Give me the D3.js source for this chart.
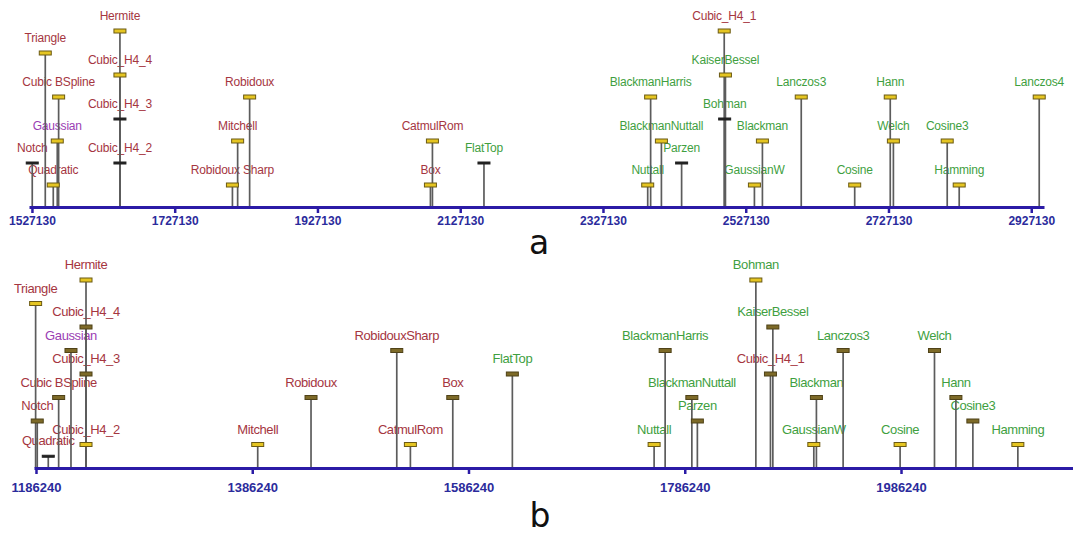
<!DOCTYPE html>
<html>
<head>
<meta charset="utf-8">
<script src="https://cdn.jsdelivr.net/npm/d3@7"></script>
<style>
  body { margin: 0; background: #fff; }
  svg { display: block; }
  .tick text { font-family: "Liberation Sans", Arial, sans-serif; font-weight: bold; fill: #2b2b9c; }
</style>
</head>
<body>
<div id="chart"></div>
<script>
// panel a
var namesA = ["Notch", "Triangle", "Quadratic", "Gaussian", "Cubic BSpline", "Hermite", "Cubic_H4_4", "Cubic_H4_3", "Cubic_H4_2",
  "Robidoux Sharp", "Mitchell", "Robidoux", "Box", "CatmulRom", "FlatTop", "Nuttall", "BlackmanHarris", "BlackmanNuttall",
  "Parzen", "Cubic_H4_1", "KaiserBessel", "Bohman", "GaussianW", "Blackman", "Lanczos3", "Cosine", "Hann", "Welch",
  "Cosine3", "Hamming", "Lanczos4"];
var valuesA = [1527550, 1545800, 1557000, 1562600, 1564500, 1650400, 1650400, 1650400, 1650400,
  1808000, 1815300, 1832100, 2085400, 2088200, 2160400, 2389800, 2393900, 2409000,
  2437300, 2497000, 2498700, 2497600, 2539300, 2550500, 2604900, 2679800, 2729600, 2734000,
  2809400, 2826200, 2938300];
var levelsA = [2, 7, 1, 3, 5, 8, 6, 4, 2,
  1, 3, 5, 1, 3, 2, 1, 5, 3,
  2, 8, 6, 4, 1, 3, 5, 1, 5, 3,
  3, 1, 5];
var ticksA = [1527130, 1727130, 1927130, 2127130, 2327130, 2527130, 2727130, 2927130];

// panel b
var namesB = ["Triangle", "Notch", "Quadratic", "Cubic BSpline", "Gaussian", "Hermite", "Cubic_H4_4", "Cubic_H4_3", "Cubic_H4_2",
  "Mitchell", "Robidoux", "RobidouxSharp", "CatmulRom", "Box", "FlatTop", "Nuttall", "BlackmanHarris", "BlackmanNuttall",
  "Parzen", "Bohman", "Cubic_H4_1", "KaiserBessel", "GaussianW", "Blackman", "Lanczos3", "Cosine", "Welch", "Hann",
  "Cosine3", "Hamming"];
var valuesB = [1185900, 1187400, 1197600, 1207200, 1218600, 1232500, 1232500, 1232500, 1232500,
  1391300, 1440600, 1519900, 1532500, 1571700, 1626800, 1757900, 1768100, 1792800,
  1797900, 1852000, 1865500, 1867700, 1905600, 1908000, 1932700, 1985400, 2017200, 2037000,
  2052700, 2094300];
var levelsB = [7, 2, 0.5, 3, 5, 8, 6, 4, 1,
  1, 3, 5, 1, 3, 4, 1, 5, 3,
  2, 8, 4, 6, 1, 3, 5, 1, 5, 3,
  2, 1];
var ticksB = [1186240, 1386240, 1586240, 1786240, 1986240];

// filter families (label colour)
var cubicFamily = ["Notch", "Triangle", "Quadratic", "Cubic BSpline", "Hermite", "Cubic_H4_1", "Cubic_H4_2", "Cubic_H4_3",
  "Cubic_H4_4", "Robidoux", "Robidoux Sharp", "RobidouxSharp", "Mitchell", "CatmulRom", "Box"];
var gaussFamily = ["Gaussian"];

var width = 1073, height = 536;
var svg = d3.select("#chart").append("svg").attr("width", width).attr("height", height);

var labelColor = function(name) {
  if (gaussFamily.indexOf(name) >= 0) return "#9a3db3";
  if (cubicFamily.indexOf(name) >= 0) return "#a5363f";
  return "#3f9f3f";
};

var drawPanel = function(cfg) {
  var x = d3.scaleLinear().domain(cfg.domain).range(cfg.range);
  var y = d3.scaleLinear().domain([0, 8]).range([cfg.axisY, cfg.topY]);
  var g = svg.append("g");
  var items = cfg.names.map(function(n, i) { return {name: n, value: cfg.values[i], level: cfg.levels[i]}; });

  // labels go under the stems
  g.selectAll("text.lbl").data(items).enter().append("text")
    .attr("class", "lbl")
    .attr("x", function(d) { return x(d.value); })
    .attr("y", function(d) { return y(d.level) - 11; })
    .attr("text-anchor", "middle")
    .attr("font-family", "'Liberation Sans', Arial, sans-serif")
    .attr("font-size", cfg.fontSize)
    .attr("letter-spacing", cfg.spacing)
    .attr("fill", function(d) { return labelColor(d.name); })
    .text(function(d) { return d.name; });

  g.selectAll("line.stem").data(items).enter().append("line")
    .attr("class", "stem")
    .attr("x1", function(d) { return x(d.value); })
    .attr("x2", function(d) { return x(d.value); })
    .attr("y1", cfg.axisY)
    .attr("y2", function(d) { return y(d.level); })
    .attr("stroke", "#5c5c5c")
    .attr("stroke-width", 1.7);

  g.selectAll("rect.cap").data(items).enter().append("rect")
    .attr("class", "cap")
    .attr("x", function(d) { return x(d.value) - 6; })
    .attr("y", function(d) { return y(d.level) - cfg.capH(d.level) / 2; })
    .attr("width", 12)
    .attr("height", function(d) { return cfg.capH(d.level); })
    .attr("fill", function(d) { return cfg.capFill(d.level); })
    .attr("stroke", function(d) { return cfg.capStroke(d.level); })
    .attr("stroke-width", 1);

  var axis = d3.axisBottom(x).tickValues(cfg.ticks).tickFormat(d3.format("d"))
    .tickSizeInner(6).tickSizeOuter(0).tickPadding(cfg.pad);
  var ax = g.append("g").attr("transform", "translate(0," + cfg.axisY + ")").call(axis);
  ax.select(".domain").attr("stroke", "#2b1ba6").attr("stroke-width", 3);
  ax.selectAll(".tick line").attr("stroke", "#2b1ba6").attr("stroke-width", 2.5);
  ax.selectAll(".tick text").attr("font-size", cfg.tickFont);

  svg.append("text")
    .attr("x", cfg.tagX).attr("y", cfg.tagY)
    .attr("text-anchor", "middle")
    .attr("font-family", "'DejaVu Sans', Verdana, sans-serif")
    .attr("font-size", 33)
    .attr("fill", "#111")
    .text(cfg.tag);
};

drawPanel({
  names: namesA, values: valuesA, levels: levelsA, ticks: ticksA,
  domain: [1523000, 2945000], range: [29, 1044],
  axisY: 207, topY: 31, fontSize: 12, spacing: -0.2, tickFont: 12, pad: 3,
  capH: function(l) { return (l === 2 || l === 4) ? 2 : 4; },
  capFill: function(l) { return (l === 2 || l === 4) ? "#222" : "#e5c522"; },
  capStroke: function(l) { return (l === 2 || l === 4) ? "#222" : "#6b5a14"; },
  tag: "a", tagX: 539, tagY: 254
});

drawPanel({
  names: namesB, values: valuesB, levels: levelsB, ticks: ticksB,
  domain: [1184400, 2145300], range: [34, 1073],
  axisY: 468, topY: 280, fontSize: 13, spacing: -0.4, tickFont: 13, pad: 9,
  capH: function(l) { return l < 1 ? 2 : 4; },
  capFill: function(l) { return l < 1 ? "#222" : (l === 1 || l >= 7) ? "#e5c522" : "#7d6a28"; },
  capStroke: function(l) { return l < 1 ? "#222" : (l === 1 || l >= 7) ? "#6b5a14" : "#4f4218"; },
  tag: "b", tagX: 540, tagY: 527
});
</script>
</body>
</html>
